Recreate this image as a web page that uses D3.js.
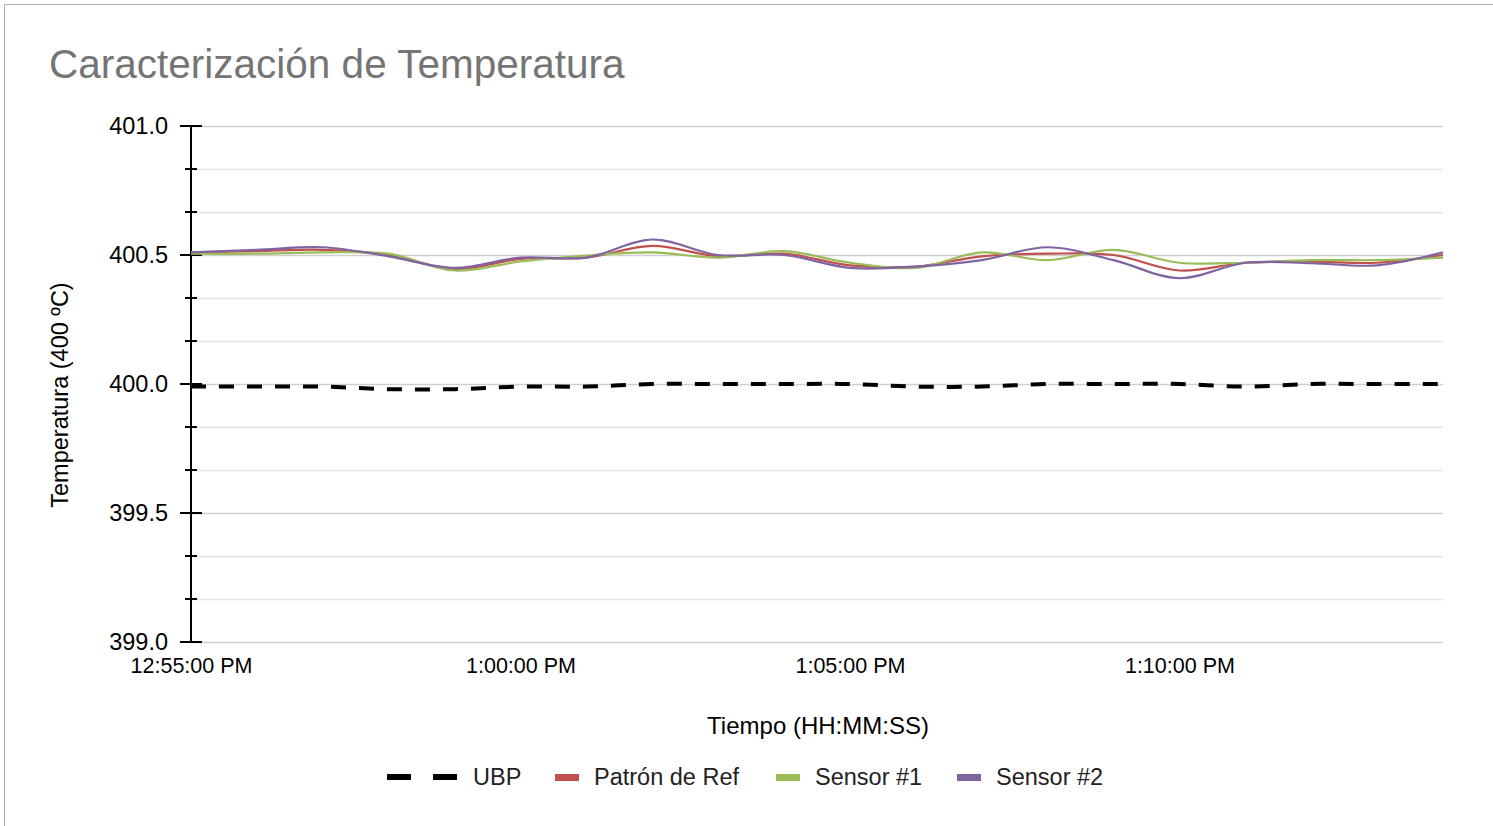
<!DOCTYPE html>
<html>
<head>
<meta charset="utf-8">
<script src="https://cdn.jsdelivr.net/npm/d3@7"></script>
<style>
  html, body { margin: 0; padding: 0; background: #fff; }
  svg { display: block; }
  text { font-family: "Liberation Sans", Arial, sans-serif; }
</style>
</head>
<body>
<svg id="chart" width="1493" height="826"></svg>
<script>
// ---- data ----
const times = ["12:55","12:56","12:57","12:58","12:59","13:00","13:01","13:02","13:03","13:04",
               "13:05","13:06","13:07","13:08","13:09","13:10","13:11","13:12","13:13","13:14"];
const ubp     = [399.99,399.99,399.99,399.98,399.98,399.99,399.99,400.00,400.00,400.00,
                 400.00,399.99,399.99,400.00,400.00,400.00,399.99,400.00,400.00,400.00];
const patron  = [400.51,400.515,400.52,400.50,400.445,400.485,400.49,400.535,400.495,400.505,
                 400.46,400.455,400.495,400.505,400.50,400.44,400.47,400.474,400.47,400.50];
const sensor1 = [400.505,400.505,400.51,400.505,400.44,400.475,400.498,400.51,400.49,400.515,
                 400.47,400.45,400.51,400.48,400.52,400.47,400.47,400.48,400.48,400.49];
const sensor2 = [400.51,400.52,400.53,400.495,400.45,400.49,400.49,400.56,400.50,400.50,
                 400.45,400.455,400.48,400.53,400.48,400.41,400.47,400.468,400.46,400.51];
const xTickTimes  = ["12:55","13:00","13:05","13:10"];
const xTickLabels = ["12:55:00 PM","1:00:00 PM","1:05:00 PM","1:10:00 PM"];
const yMajorTicks = [399.0, 399.5, 400.0, 400.5, 401.0];
const seriesNames = ["UBP","Patrón de Ref","Sensor #1","Sensor #2"];
const seriesColors = ["#000000","#c0504d","#9bbb59","#8064a2"];

const parseT = s => { const [h,m] = s.split(":").map(Number); return new Date(2020,0,1,h,m,0); };

const svg = d3.select("#chart");
const W = 1493, H = 826;
const pLeft = 191, pRight = 1443, pTop = 126, pBottom = 642;

// border
svg.append("rect").attr("x",4.5).attr("y",4.5).attr("width",W+10).attr("height",H+10)
  .attr("fill","none").attr("stroke","#b0b0b0").attr("stroke-width",1);

// title
svg.append("text").attr("x",49).attr("y",78).attr("font-size",40.5).attr("fill","#757575")
  .text("Caracterización de Temperatura");

const x = d3.scaleTime().domain([parseT(times[0]), parseT(times[times.length-1])]).range([pLeft,pRight]);
const y = d3.scaleLinear().domain([399,401]).range([pBottom,pTop]);

// gridlines (every 1/6)
const gridVals = d3.range(0,13).map(k => 399 + k/6);
svg.append("g").selectAll("line").data(gridVals).join("line")
  .attr("x1",pLeft).attr("x2",pRight)
  .attr("y1",d=>Math.round(y(d))+0.5).attr("y2",d=>Math.round(y(d))+0.5)
  .attr("stroke",(d,i)=> i%3===0 ? "#cfcfcf" : "#e3e3e3").attr("stroke-width",1.5);

// y axis
const yAxis = d3.axisLeft(y).tickValues(yMajorTicks).tickFormat(d3.format(".1f")).tickSize(0).tickPadding(23);
const gy = svg.append("g").attr("transform",`translate(${pLeft},0)`).call(yAxis);
gy.select(".domain").remove();
gy.selectAll("text").attr("font-size",23.5).attr("fill","#000").attr("font-family","Liberation Sans, Arial, sans-serif");
svg.append("line").attr("x1",pLeft).attr("x2",pLeft).attr("y1",pTop).attr("y2",pBottom)
  .attr("stroke","#000").attr("stroke-width",2);
svg.append("g").selectAll("line").data(gridVals).join("line")
  .attr("x1",(d,i)=> i%3===0 ? pLeft-11 : pLeft-6)
  .attr("x2",(d,i)=> i%3===0 ? pLeft+11 : pLeft+6)
  .attr("y1",d=>y(d)).attr("y2",d=>y(d))
  .attr("stroke","#000").attr("stroke-width",2);

// x axis labels
const xAxis = d3.axisBottom(x).tickValues(xTickTimes.map(parseT))
  .tickFormat((d,i)=>xTickLabels[i]).tickSize(0).tickPadding(16);
const gx = svg.append("g").attr("transform",`translate(0,${pBottom})`).call(xAxis);
gx.select(".domain").remove();
gx.selectAll("text").attr("font-size",21.5).attr("fill","#000").attr("font-family","Liberation Sans, Arial, sans-serif");

// axis titles
svg.append("text").attr("x",818).attr("y",734).attr("text-anchor","middle")
  .attr("font-size",24).attr("fill","#000").text("Tiempo (HH:MM:SS)");
svg.append("text").attr("transform",`translate(68,395) rotate(-90)`)
  .attr("text-anchor","middle").attr("font-size",23.5).attr("fill","#000").text("Temperatura (400 ºC)");

// lines
const line = d3.line().x((d,i)=>x(parseT(times[i]))).y(d=>y(d)).curve(d3.curveCatmullRom.alpha(0.5));
svg.append("path").datum(ubp).attr("d",line).attr("fill","none")
  .attr("stroke","#000").attr("stroke-width",4).attr("stroke-dasharray","15,13");
[patron, sensor1, sensor2].forEach((s,k)=>{
  svg.append("path").datum(s).attr("d",line).attr("fill","none")
    .attr("stroke",seriesColors[k+1]).attr("stroke-width",2.2);
});

// legend
const legY = 777;
const lg = svg.append("g");
lg.append("line").attr("x1",387).attr("x2",457).attr("y1",legY).attr("y2",legY)
  .attr("stroke","#000").attr("stroke-width",6).attr("stroke-dasharray","24,22");
lg.append("text").attr("x",473).attr("y",legY+8).attr("font-size",23.5).attr("fill","#222").text(seriesNames[0]);
const legItems = [{x:555, tx:594},{x:776, tx:815},{x:957, tx:996}];
legItems.forEach((it,k)=>{
  lg.append("rect").attr("x",it.x).attr("y",legY-3).attr("width",24).attr("height",7).attr("fill",seriesColors[k+1]);
  lg.append("text").attr("x",it.tx).attr("y",legY+8).attr("font-size",23.5).attr("fill","#222").text(seriesNames[k+1]);
});
</script>
</body>
</html>
